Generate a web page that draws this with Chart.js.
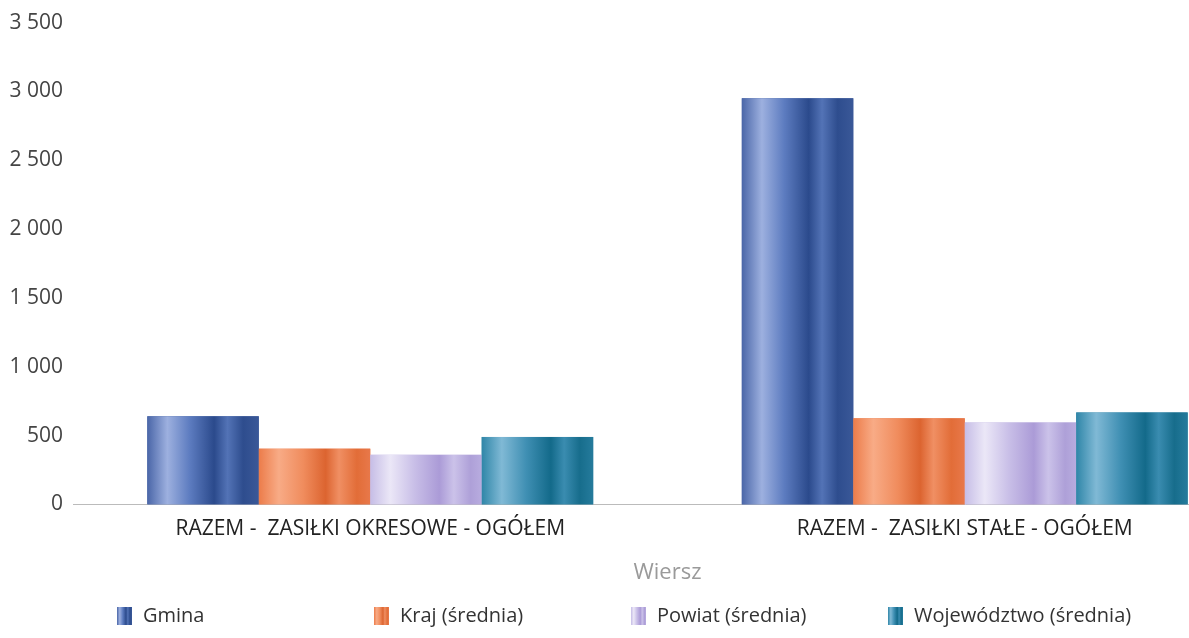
<!DOCTYPE html>
<html>
<head>
<meta charset="utf-8">
<script src="https://cdn.jsdelivr.net/npm/chart.js@4"></script>
<style>
html,body{margin:0;padding:0;background:#fff;overflow:hidden;width:1189px;height:638px;}
#wrap{width:1270px;height:638px;}
</style>
</head>
<body>
<div id="wrap"><canvas id="c" width="1270" height="638"></canvas></div>
<script>
// ---- data ----
const categories = ['RAZEM -  ZASIŁKI OKRESOWE - OGÓŁEM', 'RAZEM -  ZASIŁKI STAŁE - OGÓŁEM'];
const seriesNames = ['Gmina', 'Kraj (średnia)', 'Powiat (średnia)', 'Województwo (średnia)'];
const gmina = [640, 2950];
const kraj = [405, 625];
const powiat = [360, 595];
const wojewodztwo = [490, 668];
const yMax = 3500;
const yStep = 500;
const axisTitle = 'Wiersz';

// ---- styles ----
const stops = [
  [[0,'#4a66a8'],[0.18,'#9db0df'],[0.38,'#5d7cc0'],[0.6,'#2b4a8c'],[0.72,'#5373b6'],[0.86,'#2e4d8e'],[1,'#3a5898']],
  [[0,'#ec7c4a'],[0.18,'#f8ab86'],[0.4,'#f08c5d'],[0.6,'#dc6430'],[0.72,'#f08f63'],[0.88,'#e26d38'],[1,'#e8784a']],
  [[0,'#c6bde6'],[0.18,'#ebe7f7'],[0.4,'#c8bee7'],[0.62,'#ab9bd7'],[0.75,'#cbc2e9'],[0.9,'#aea0d8'],[1,'#b8acdf']],
  [[0,'#2f86a8'],[0.18,'#80b9d5'],[0.4,'#3f8fb3'],[0.62,'#136a8a'],[0.74,'#3a8cb0'],[0.88,'#176d8c'],[1,'#257b9c']]
];
const baseColors = ['#3f5ea0','#ea7a48','#c0b4e2','#287f9f'];
const FONT = '"Open Sans", "Noto Sans", sans-serif';

function makeGrad(ctx, left, width, idx){
  const g = ctx.createLinearGradient(left, 0, left + width, 0);
  stops[idx].forEach(s => g.addColorStop(s[0], s[1]));
  return g;
}

const gradientBars = {
  id: 'gradientBars',
  afterDatasetsDraw(chart){
    const ctx = chart.ctx;
    ctx.save();
    chart.data.datasets.forEach((ds, i) => {
      const meta = chart.getDatasetMeta(i);
      meta.data.forEach(bar => {
        const p = bar.getProps(['x','y','base','width'], true);
        const left = p.x - p.width / 2;
        ctx.fillStyle = makeGrad(ctx, left, p.width, i);
        ctx.fillRect(left, p.y, p.width, p.base - p.y);
      });
    });
    ctx.restore();
  }
};

const customLegend = {
  id: 'customLegend',
  afterDraw(chart){
    const ctx = chart.ctx;
    ctx.save();
    ctx.font = '20px ' + FONT;
    ctx.textBaseline = 'middle';
    ctx.textAlign = 'left';
    const y = 616;
    const startX = 117, colW = 257;
    seriesNames.forEach((name, i) => {
      const x = startX + i * colW;
      ctx.fillStyle = makeGrad(ctx, x, 15, i);
      ctx.fillRect(x, y - 9, 15, 18);
      ctx.fillStyle = '#333';
      ctx.fillText(name, x + 26, y);
    });
    ctx.restore();
  }
};

const fmt = v => String(v).replace(/\B(?=(\d{3})+(?!\d))/g, ' ');

new Chart(document.getElementById('c'), {
  type: 'bar',
  data: {
    labels: categories,
    datasets: [
      {label: seriesNames[0], data: gmina, backgroundColor: baseColors[0]},
      {label: seriesNames[1], data: kraj, backgroundColor: baseColors[1]},
      {label: seriesNames[2], data: powiat, backgroundColor: baseColors[2]},
      {label: seriesNames[3], data: wojewodztwo, backgroundColor: baseColors[3]}
    ]
  },
  options: {
    responsive: false,
    animation: false,
    layout: {padding: {top: 7, right: 8, left: 0, bottom: 52}},
    datasets: {bar: {categoryPercentage: 0.75, barPercentage: 1.0, borderWidth: 0}},
    plugins: {legend: {display: false}, tooltip: {enabled: false}},
    scales: {
      x: {
        grid: {display: false, drawTicks: false},
        border: {display: true, color: '#bbb', width: 1, dash: [1,2]},
        ticks: {color: '#222', font: {family: FONT, size: 21}, padding: 12, maxRotation: 0, autoSkip: false},
        title: {display: true, text: axisTitle, color: '#9a9a9a', font: {family: FONT, size: 22}, padding: {top: 6, bottom: 0}}
      },
      y: {
        min: 0, max: yMax,
        afterFit: s => { s.width = 73; },
        grid: {display: false, drawTicks: false},
        border: {display: false},
        ticks: {stepSize: yStep, color: '#444', font: {family: FONT, size: 21}, padding: 10, callback: v => fmt(v)}
      }
    }
  },
  plugins: [gradientBars, customLegend]
});
</script>
</body>
</html>
